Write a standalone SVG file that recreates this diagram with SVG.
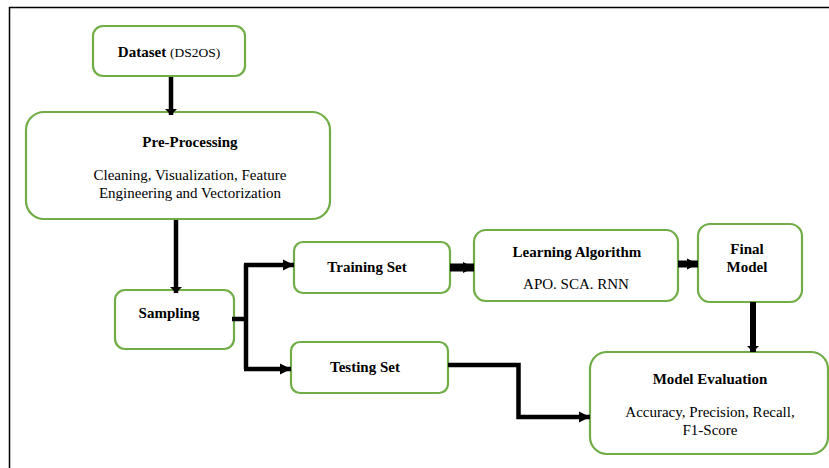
<svg xmlns="http://www.w3.org/2000/svg" width="829" height="468" viewBox="0 0 829 468">
<style>
.box{fill:#fff;stroke:#70AD47;stroke-width:2.2}
.t{font-family:"Liberation Serif","Times New Roman",serif;font-size:15px;fill:#000;text-anchor:middle}
.b{font-weight:bold}
.c{fill:none;stroke:#000;stroke-linejoin:miter}
</style>
<defs>
<marker id="ah" viewBox="0 0 10 10" refX="10" refY="5" markerUnits="userSpaceOnUse" markerWidth="11" markerHeight="13" orient="auto">
<path d="M0,0 L10,5 L0,10 z" fill="#000"/>
</marker>
<marker id="ahs" viewBox="0 0 6 12" refX="6" refY="6" markerUnits="userSpaceOnUse" markerWidth="6" markerHeight="12" orient="auto">
<path d="M0,0 L6,6 L0,12 z" fill="#000"/>
</marker>
</defs>
<rect width="829" height="468" fill="#fff"/>
<path d="M9.5,468 V7.5 H829" fill="none" stroke="#000" stroke-width="1.5"/>

<g id="dataset">
<rect class="box" x="93" y="26" width="152" height="50" rx="10"/>
<text class="t" x="169" y="57"><tspan class="b">Dataset</tspan> <tspan font-size="13.5">(DS2OS)</tspan></text>
</g>
<g id="preprocessing">
<rect class="box" x="26" y="112" width="304" height="107" rx="18"/>
<text class="t b" x="190" y="147">Pre-Processing</text>
<text class="t" x="190" y="180">Cleaning, Visualization, Feature</text>
<text class="t" x="190" y="198">Engineering and Vectorization</text>
</g>
<g id="sampling">
<rect class="box" x="115" y="290" width="119" height="59" rx="10"/>
<text class="t b" x="169" y="318">Sampling</text>
</g>
<g id="training">
<rect class="box" x="294" y="242" width="156" height="51" rx="9"/>
<text class="t b" x="367" y="272">Training Set</text>
</g>
<g id="testing">
<rect class="box" x="291" y="342" width="157" height="51" rx="9"/>
<text class="t b" x="365" y="372">Testing Set</text>
</g>
<g id="learning">
<rect class="box" x="474" y="230" width="204" height="71" rx="12"/>
<text class="t b" x="577" y="257">Learning Algorithm</text>
<text class="t" x="576" y="289">APO. SCA. RNN</text>
</g>
<g id="finalmodel">
<rect class="box" x="698" y="224" width="104" height="78" rx="12"/>
<text class="t b" x="747" y="254">Final</text>
<text class="t b" x="747" y="272">Model</text>
</g>
<g id="evaluation">
<rect class="box" x="590" y="352" width="238" height="102" rx="17"/>
<text class="t b" x="710" y="384">Model Evaluation</text>
<text class="t" x="710" y="417">Accuracy, Precision, Recall,</text>
<text class="t" x="710" y="435">F1-Score</text>
</g>

<g id="connectors">
<path class="c" d="M171,77 V115" stroke-width="4.5" marker-end="url(#ahs)"/>
<path class="c" d="M176,220 V293" stroke-width="4.5" marker-end="url(#ahs)"/>
<path class="c" d="M232,319 H246" stroke-width="4.5"/>
<path class="c" d="M246,264.5 V369" stroke-width="4.5"/>
<path class="c" d="M244,265 H294" stroke-width="4.5" marker-end="url(#ah)"/>
<path class="c" d="M244,369 H291" stroke-width="4.5" marker-end="url(#ah)"/>
<path class="c" d="M450,267.5 H474" stroke-width="8" marker-end="url(#ah)"/>
<path class="c" d="M678,264 H698" stroke-width="7" marker-end="url(#ah)"/>
<path class="c" d="M753,302 V352" stroke-width="6" marker-end="url(#ahs)"/>
<path class="c" d="M448,365 H518.5 V417 H590" stroke-width="4.5" marker-end="url(#ah)"/>
</g>
</svg>
